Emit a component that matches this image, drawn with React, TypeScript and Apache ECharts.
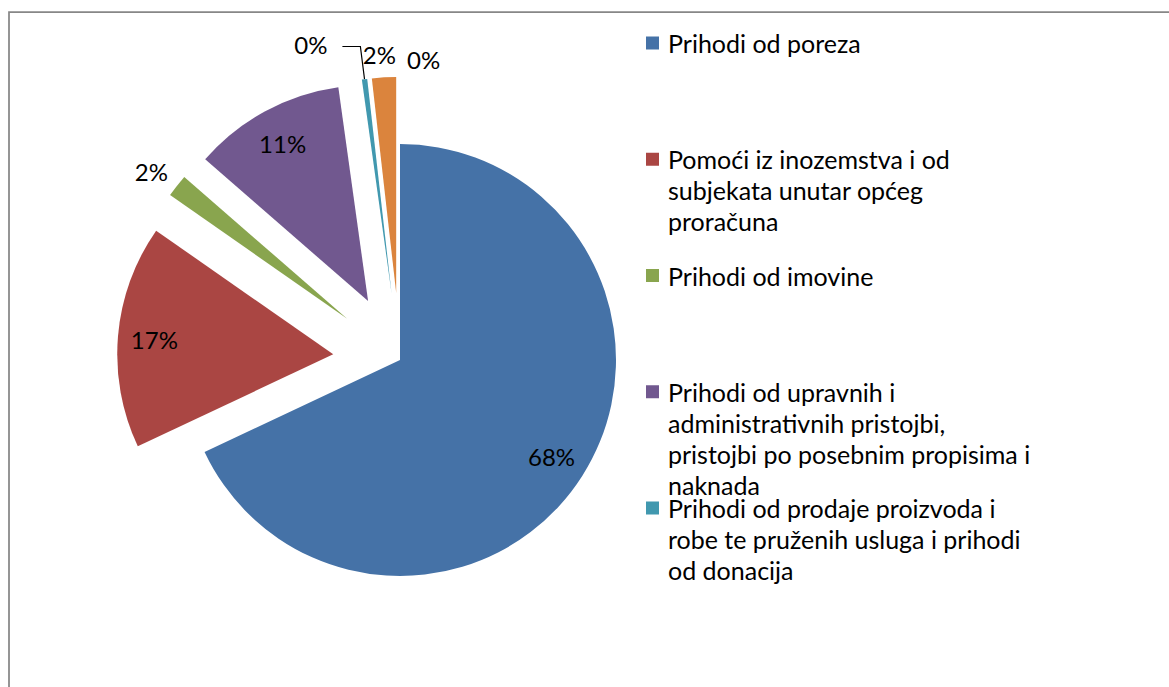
import React, { useEffect, useRef } from "react";
import * as echarts from "echarts";

const NAMES = [
  "Prihodi od poreza",
  "Pomoći iz inozemstva i od subjekata unutar općeg proračuna",
  "Prihodi od imovine",
  "Prihodi od upravnih i administrativnih pristojbi, pristojbi po posebnim propisima i naknada",
  "Prihodi od prodaje proizvoda i robe te pruženih usluga i prihodi od donacija",
  "Kazne, upravne mjere i ostali prihodi",
  "Prihodi od prodaje nefinancijske imovine",
];
const VALUES = [68.0, 16.7, 1.7, 11.4, 0.4, 1.8, 0.0];
const COLORS = ["#4572A7", "#AA4643", "#89A54E", "#71588F", "#4198AF", "#DB843D", "#93A9CF"];
const EXPLODED = [false, true, true, true, true, true, true];
const INSIDE_LABEL = [true, true, false, true, false, false, false];

const LEGEND_LINES = [
  ["Prihodi od poreza"],
  ["Pomoći iz inozemstva i od", "subjekata unutar općeg", "proračuna"],
  ["Prihodi od imovine"],
  ["Prihodi od upravnih i", "administrativnih pristojbi,", "pristojbi po posebnim propisima i", "naknada"],
  ["Prihodi od prodaje proizvoda i", "robe te pruženih usluga i prihodi", "od donacija"],
];

const FONT = "Lato";
const FS = 24;
const LEGEND_FS = 25;
const LH = 31;

export default function App() {
  const ref = useRef<HTMLDivElement>(null);
  useEffect(() => {
    const chart = echarts.init(ref.current!, null, { renderer: "svg" });
    const total = VALUES.reduce((a, b) => a + b, 0);
    const pct = (v: number) => Math.round((v / total) * 100) + "%";

    const legends = LEGEND_LINES.map((lines, i) => {
      const h = lines.length * LH;
      const c = LH / 2;
      const icon = `path://M0,0L0,0M0,${c - 6.5}L13,${c - 6.5}L13,${c + 6.5}L0,${c + 6.5}ZM17,${h}L17,${h}`;
      return {
        show: true,
        left: 646,
        top: 43 + i * 116.25 - LH / 2,
        padding: 0,
        orient: "vertical",
        data: [NAMES[i]],
        icon,
        itemWidth: 17,
        itemHeight: h,
        selectedMode: false,
        itemStyle: { borderWidth: 0 },
        formatter: () => lines.join("\n"),
        textStyle: { fontFamily: FONT, fontSize: LEGEND_FS, lineHeight: LH, color: "#000" },
      };
    });

    const labelTweaks: Record<number, any> = {
      2: { length: 14, length2: 0, showLine: false },
      4: { length: 33, length2: 18, showLine: true },
      5: { length: 20, length2: 0, showLine: false },
      6: { length: 20, length2: 0, showLine: false },
    };

    const mainData = NAMES.map((name, i) => {
      const t = labelTweaks[i];
      return {
        name,
        value: VALUES[i],
        selected: EXPLODED[i],
        itemStyle: { color: COLORS[i] },
        label: t
          ? { show: true, position: "outside", formatter: pct(VALUES[i]) }
          : { show: false },
        labelLine: t
          ? { show: t.showLine, length: t.length, length2: t.length2, lineStyle: { color: "#000", width: 1.2 } }
          : { show: false },
      };
    });

    const labelData = NAMES.map((name, i) => ({
      name,
      value: VALUES[i],
      selected: EXPLODED[i],
      itemStyle: { color: "rgba(0,0,0,0)" },
      label: INSIDE_LABEL[i]
        ? { show: true, position: "inside", formatter: pct(VALUES[i]) }
        : { show: false },
      labelLine: { show: false },
    }));

    const outsideShift: Record<number, any> = {
      2: { dx: 7, dy: -6 },
      4: { dx: -10, dy: -2 },
      5: { dx: 18, dy: -3 },
      6: { dx: 12, dy: 2, align: "left" },
    };

    chart.setOption({
      animation: false,
      backgroundColor: "#fff",
      graphic: [
        {
          type: "rect",
          x: 9,
          y: 12,
          shape: { x: 0, y: 0, width: 1200, height: 700 },
          style: { fill: "none", stroke: "#878787", lineWidth: 1.75 },
          silent: true,
        },
      ],
      legend: legends,
      series: [
        {
          type: "pie",
          center: [400, 360],
          radius: 216,
          startAngle: 90,
          clockwise: true,
          selectedMode: "multiple",
          selectedOffset: 67,
          avoidLabelOverlap: false,
          emphasis: { disabled: true },
          select: { itemStyle: {} },
          label: { fontFamily: FONT, fontSize: FS, color: "#000" },
          labelLayout: (p: any) => outsideShift[p.dataIndex] || {},
          data: mainData,
        },
        {
          type: "pie",
          center: [400, 360],
          radius: 353,
          startAngle: 90,
          clockwise: true,
          selectedMode: "multiple",
          selectedOffset: 67,
          avoidLabelOverlap: false,
          silent: true,
          legendHoverLink: false,
          emphasis: { disabled: true },
          label: { fontFamily: FONT, fontSize: FS, color: "#000" },
          data: labelData,
        },
      ],
    });
    return () => chart.dispose();
  }, []);
  return (
    <div
      ref={ref}
      style={{ position: "absolute", left: 0, top: 0, width: 1169, height: 687 }}
    />
  );
}
